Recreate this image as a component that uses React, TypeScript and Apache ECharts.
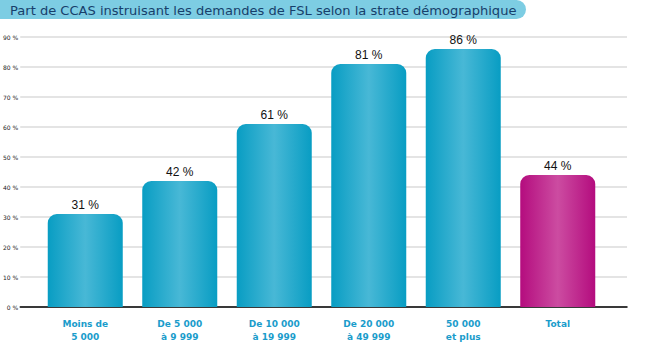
import React, { useEffect, useRef } from "react";
import * as echarts from "echarts";

const title = "Part de CCAS instruisant les demandes de FSL selon la strate démographique";
const categories = ["Moins de\n5 000", "De 5 000\nà 9 999", "De 10 000\nà 19 999", "De 20 000\nà 49 999", "50 000\net plus", "Total"];
const values = [31, 42, 61, 81, 86, 44];
const yMin = 0;
const yMax = 90;
const yStep = 10;

const blueGrad = () =>
  new echarts.graphic.LinearGradient(0, 0, 1, 0, [
    { offset: 0, color: "#089dc3" },
    { offset: 0.5, color: "#48b8d6" },
    { offset: 1, color: "#089dc3" },
  ]);
const magGrad = () =>
  new echarts.graphic.LinearGradient(0, 0, 1, 0, [
    { offset: 0, color: "#b40c7e" },
    { offset: 0.5, color: "#cc4ca1" },
    { offset: 1, color: "#b40c7e" },
  ]);

export default function App() {
  const ref = useRef<HTMLDivElement>(null);
  useEffect(() => {
    if (!ref.current) return;
    const chart = echarts.init(ref.current, null, { renderer: "svg" });
    chart.setOption({
      animation: false,
      backgroundColor: "#ffffff",
      graphic: [
        {
          type: "rect",
          shape: { x: 0, y: 0, width: 526, height: 19, r: [0, 9.5, 9.5, 0] },
          style: { fill: "#7dcde3" },
        },
        {
          type: "text",
          x: 10,
          y: 10,
          style: {
            text: title,
            fill: "#173f6b",
            font: "13.05px 'DejaVu Sans', sans-serif",
            verticalAlign: "middle",
          },
        },
      ],
      grid: [
        { left: 16, right: 25, top: 37, bottom: 49 },
        { left: 38, right: 47, top: 37, bottom: 49 },
      ],
      xAxis: [
        {
          gridIndex: 0,
          type: "category",
          data: [""],
          axisLine: { show: true, lineStyle: { color: "#000", width: 1.5 } },
          axisTick: { show: false },
          axisLabel: { show: false },
          splitLine: { show: false },
        },
        {
          gridIndex: 1,
          type: "category",
          data: categories,
          axisLine: { show: false },
          axisTick: { show: false },
          axisLabel: {
            margin: 10,
            color: "#1a9ccb",
            fontWeight: "bold",
            fontSize: 9,
            lineHeight: 13,
            fontFamily: "'DejaVu Sans', sans-serif",
            interval: 0,
          },
        },
      ],
      yAxis: [
        {
          gridIndex: 0,
          type: "value",
          min: yMin,
          max: yMax,
          interval: yStep,
          axisLine: { show: false },
          axisTick: { show: false },
          axisLabel: {
            formatter: "{value} %",
            fontSize: 6,
            color: "#222",
            margin: 2,
            fontFamily: "'DejaVu Sans', sans-serif",
          },
          splitLine: { show: true, lineStyle: { color: "#e4e4e4", width: 2 } },
        },
        {
          gridIndex: 1,
          type: "value",
          min: yMin,
          max: yMax,
          interval: yStep,
          show: false,
          splitLine: { show: false },
        },
      ],
      series: [
        {
          type: "bar",
          xAxisIndex: 1,
          yAxisIndex: 1,
          barWidth: 75,
          data: values.map((v, i) => ({
            value: v,
            itemStyle: { color: i === values.length - 1 ? magGrad() : blueGrad() },
          })),
          itemStyle: { borderRadius: [9, 9, 0, 0] },
          label: {
            show: true,
            position: "top",
            distance: 3,
            formatter: "{c} %",
            color: "#111",
            fontSize: 12,
            fontFamily: "'Liberation Sans', sans-serif",
          },
        },
      ],
    });
    return () => chart.dispose();
  }, []);
  return (
    <div
      ref={ref}
      style={{ position: "absolute", left: 0, top: 0, width: 652, height: 356 }}
    />
  );
}
